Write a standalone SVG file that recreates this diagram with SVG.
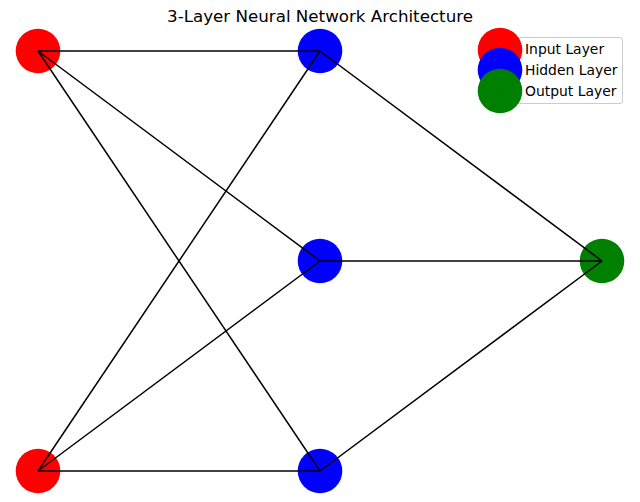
<svg xmlns="http://www.w3.org/2000/svg" width="640" height="502" viewBox="0 0 640 502">
<style>
.t{font-family:"DejaVu Sans",sans-serif;fill:#000}
.e{stroke:#000;stroke-width:1.5;fill:none}
</style>
<rect width="640" height="502" fill="#fff"/>
<text class="t" x="320" y="22" font-size="16.7" text-anchor="middle">3-Layer Neural Network Architecture</text>
<g id="nodes">
<g id="input1"><circle cx="38" cy="51" r="22.3" fill="#f00"/></g>
<g id="input2"><circle cx="38" cy="471" r="22.3" fill="#f00"/></g>
<g id="hidden1"><circle cx="320" cy="51" r="22.3" fill="#00f"/></g>
<g id="hidden2"><circle cx="320" cy="261" r="22.3" fill="#00f"/></g>
<g id="hidden3"><circle cx="320" cy="471" r="22.3" fill="#00f"/></g>
<g id="output1"><circle cx="602" cy="261" r="22.3" fill="#008000"/></g>
</g>
<g id="connectors" class="e">
<line x1="38" y1="51" x2="320" y2="51"/>
<line x1="38" y1="51" x2="320" y2="261"/>
<line x1="38" y1="51" x2="320" y2="471"/>
<line x1="38" y1="471" x2="320" y2="51"/>
<line x1="38" y1="471" x2="320" y2="261"/>
<line x1="38" y1="471" x2="320" y2="471"/>
<line x1="320" y1="51" x2="602" y2="261"/>
<line x1="320" y1="261" x2="602" y2="261"/>
<line x1="320" y1="471" x2="602" y2="261"/>
</g>
<g id="legend">
<rect x="482" y="37.5" width="140.5" height="66" rx="2.5" fill="#fff" fill-opacity="0.8" stroke="#ccc" stroke-width="1"/>
<circle cx="500" cy="50" r="22.3" fill="#f00"/>
<circle cx="500" cy="70" r="22.3" fill="#00f"/>
<circle cx="500" cy="91" r="22.3" fill="#008000"/>
<text class="t" x="525" y="54" font-size="13.9">Input Layer</text>
<text class="t" x="525" y="75" font-size="13.9">Hidden Layer</text>
<text class="t" x="525" y="95.5" font-size="13.9">Output Layer</text>
</g>
</svg>
